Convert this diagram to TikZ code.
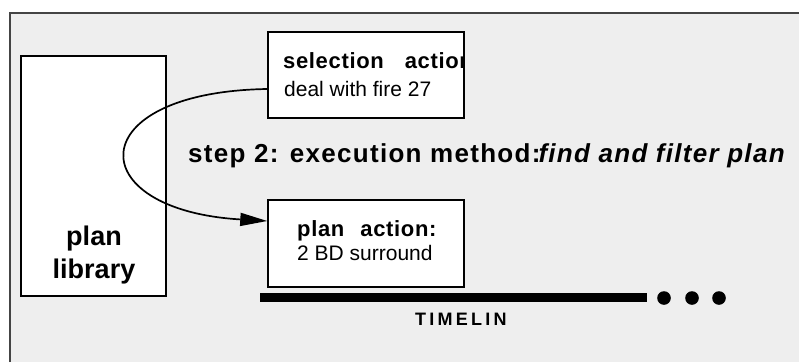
\documentclass[tikz,border=0pt]{standalone}
\usepackage{fontspec}
\setmainfont{Liberation Sans}
\newfontfamily\spacedfont[LetterSpace=3]{Liberation Sans}
\newfontfamily\stepfont[LetterSpace=5]{Liberation Sans}
\newfontfamily\timefont[LetterSpace=18]{Liberation Sans}
\usepackage{xcolor}
\usetikzlibrary{positioning}
\usetikzlibrary{arrows.meta}
\definecolor{panelgray}{HTML}{EEEEEE}
\definecolor{framegray}{HTML}{444444}

\begin{document}
\begin{tikzpicture}[x=1pt, y=-1pt,
    box/.style={draw, fill=white, line width=1.5pt, inner sep=0pt},
    boxtitle/.style={anchor=base west, inner sep=0pt, font=\fontsize{22}{26}\spacedfont\bfseries},
    boxtext/.style={anchor=base west, inner sep=0pt, font=\fontsize{21}{25}\selectfont}]
    \useasboundingbox (0,0) rectangle (799,362);
    \fill[panelgray] (10,13) rectangle (799,362);
    \draw[framegray, line width=2pt] (10,362) -- (10,13) -- (799,13);

    \node[box, minimum width=145pt, minimum height=240pt] (library) at (93.5,176) {};
    \node[anchor=base, inner sep=0pt, font=\fontsize{27}{33}\selectfont\bfseries] (lib_plan) at (94,245) {plan};
    \node[anchor=base, inner sep=0pt, font=\fontsize{27}{33}\selectfont\bfseries] (lib_library) at (94,278) {library};

    \node[box, minimum width=196pt, minimum height=86pt] (selact) at (366,75) {};
    \begin{scope}
        \clip (268,32) rectangle (463,118);
        \node[boxtitle] (sel_title) at (283,68) {selection\hspace{21pt}action:};
    \end{scope}
    \node[boxtext] (sel_text) at (284,96) {deal with fire 27};

    \node[box, minimum width=196pt, minimum height=87pt] (planact) at (366,243.5) {};
    \node[boxtitle] (plan_title) at (297,236) {plan\hspace{16pt}action:};
    \node[boxtext] (plan_text) at (297,260) {2 BD surround};

    \node[anchor=base west, inner sep=0pt, font=\fontsize{26}{30}\stepfont\bfseries] (step) at (188,162)
        {step 2: execution method:\kern-2pt\itshape find and filter plan};

    \draw[-{Triangle[length=27pt,width=13pt]}, line width=1.7pt]
        ([yshift=-14pt]selact.west) .. controls (80,92) and (80,210) .. ([yshift=22.5pt]planact.west);

    % timeline
    \draw[line width=9pt] (260,297) -- (647,297);
    \foreach \x in {664,692,719}
        \fill (\x,298) circle (6.8pt);
    \node[anchor=base west, inner sep=0pt, font=\fontsize{18}{22}\timefont\bfseries] (timeline) at (415,325) {TIMELIN};
\end{tikzpicture}
\end{document}
